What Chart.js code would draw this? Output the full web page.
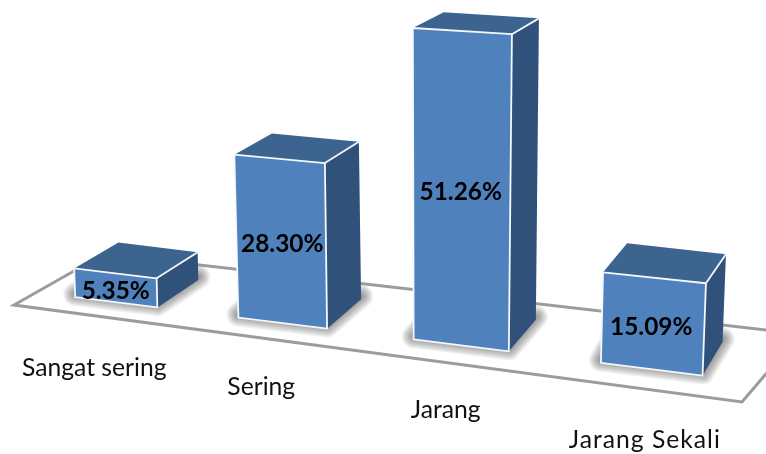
<!DOCTYPE html>
<html>
<head>
<meta charset="utf-8">
<style>html,body{margin:0;padding:0;background:#fff}canvas{display:block;filter:blur(0.3px)}</style>
<script src="https://cdn.jsdelivr.net/npm/chart.js@4"></script>
</head>
<body>
<canvas id="c" width="766" height="454"></canvas>
<script>
const categories = ["Sangat sering", "Sering", "Jarang", "Jarang Sekali"];
const values = [5.35, 28.30, 51.26, 15.09];
const valueLabels = ["5.35%", "28.30%", "51.26%", "15.09%"];

// Perspective of the fake 3D view
const nearness = [0.90, 0.967, 1.022, 1.01];
const labelFont = '24.7px Lato, "Open Sans", sans-serif';
const valueFont = 'bold 24.4px Lato, "Open Sans", sans-serif';
const floorPath = [[14,305],[104,254],[800,334],[742,402]];
const labelNudgeX = [3, -2, -1.5, 1.5];
const labelNudgeY = [3, -1, -3, 1];
const labelSpacing = ['0px', '0px', '0px', '1px'];

function corners(el, i) {
  const u = i - 1.5;
  const cx = el.x + 6 * (u * u - 1.25);
  const base = el.base + 0.125 * (cx - 378);
  const h = (el.base - el.y) * nearness[i];
  const w = el.width * (1 + 0.0708 * u);
  const wt = w * (1 + 0.00013 * h);
  const sb = 0.125, st = 0.125 - 0.0002 * h;
  const tcx = cx + 0.02 * u * h - (i === 1 ? 1.5 : 0) - (i === 2 ? 2 : 0);
  const tcy = base - h;
  const BL = [cx - w/2, base - sb*w/2], BR = [cx + w/2, base + sb*w/2];
  const TL = [tcx - wt/2, tcy - st*wt/2], TR = [tcx + wt/2, tcy + st*wt/2];
  const dx = 41 - 7*i, dyB = -27.5 - 2*i, dyT = dyB + 0.05*h;
  return {cx, base, h, BL, BR, TL, TR,
    BTL: [TL[0] + dx + 0.04*w, TL[1] + dyT],
    BTR: [TR[0] + dx, TR[1] + dyT],
    BBR: [BR[0] + dx, BR[1] + dyB],
    BBL: [BL[0] + dx, BL[1] + dyB]};
}
function poly(ctx, pts, close) {
  ctx.beginPath();
  pts.forEach((p, k) => k ? ctx.lineTo(p[0], p[1]) : ctx.moveTo(p[0], p[1]));
  if (close) ctx.closePath();
}

const box3d = {
  id: 'box3d',
  beforeDatasetsDraw(chart) {
    const ctx = chart.ctx;
    ctx.save();
    ctx.strokeStyle = '#9c9c9c'; ctx.lineWidth = 3; ctx.lineJoin = 'miter';
    poly(ctx, floorPath, true); ctx.stroke();
    ctx.restore();
  },
  beforeDatasetDraw(chart, args) {
    const ctx = chart.ctx;
    const meta = chart.getDatasetMeta(args.index);
    meta.data.forEach((el, i) => {
      const g = corners(el, i);
      ctx.save();
      // ground shadow: stacked translucent halos around the footprint
      ctx.save();
      ctx.translate(0, -3);
      ctx.lineJoin = 'round';
      ctx.strokeStyle = 'rgba(40,40,40,0.05)';
      for (let lw = 24; lw >= 2; lw -= 2) {
        ctx.lineWidth = lw;
        poly(ctx, [g.BL, g.BR, g.BBR, g.BBL], true); ctx.stroke();
      }
      ctx.restore();
      // side
      ctx.fillStyle = '#305179';
      poly(ctx, [g.BR, g.TR, g.BTR, g.BBR], true); ctx.fill();
      // top
      ctx.fillStyle = '#3c648f';
      poly(ctx, [g.TL, g.TR, g.BTR, g.BTL], true); ctx.fill();
      // front
      ctx.fillStyle = '#4f81bd';
      poly(ctx, [g.BL, g.BR, g.TR, g.TL], true); ctx.fill();
      // highlights
      ctx.strokeStyle = '#f4f7fb'; ctx.lineWidth = 1.8; ctx.lineJoin = 'round';
      poly(ctx, [g.BL, g.BR, g.TR, g.TL], true); ctx.stroke();
      poly(ctx, [g.TR, g.BTR], false); ctx.stroke();
      ctx.restore();
    });
    return false;
  },
  afterDatasetsDraw(chart) {
    const ctx = chart.ctx;
    const meta = chart.getDatasetMeta(0);
    ctx.save();
    ctx.textAlign = 'center'; ctx.textBaseline = 'middle';
    meta.data.forEach((el, i) => {
      const g = corners(el, i);
      ctx.letterSpacing = '0px';
      ctx.font = valueFont; ctx.fillStyle = '#000';
      ctx.fillText(valueLabels[i], g.cx - 0.5, g.base - g.h/2 + 3.5);
      // category labels, following the front floor edge
      const lx = g.cx - 25 + 5.5*i;
      const ly = 305 + 0.134*(lx - 14) + 50;
      ctx.font = labelFont; ctx.fillStyle = '#111';
      ctx.letterSpacing = labelSpacing[i];
      ctx.fillText(chart.data.labels[i], lx + labelNudgeX[i], ly + labelNudgeY[i]);
    });
    ctx.restore();
  }
};

new Chart(document.getElementById('c'), {
  type: 'bar',
  data: { labels: categories, datasets: [{ label: 'Persentase', data: values,
    backgroundColor: '#4f81bd', barPercentage: 0.515, categoryPercentage: 1 }] },
  options: {
    responsive: false, animation: false, devicePixelRatio: 1,
    layout: { padding: { left: 21, right: 31, top: 5, bottom: 119 } },
    plugins: { legend: { display: false }, tooltip: { enabled: false } },
    scales: {
      x: { display: false },
      y: { display: false, min: 0, max: 55 }
    }
  },
  plugins: [box3d]
});
</script>
</body>
</html>
